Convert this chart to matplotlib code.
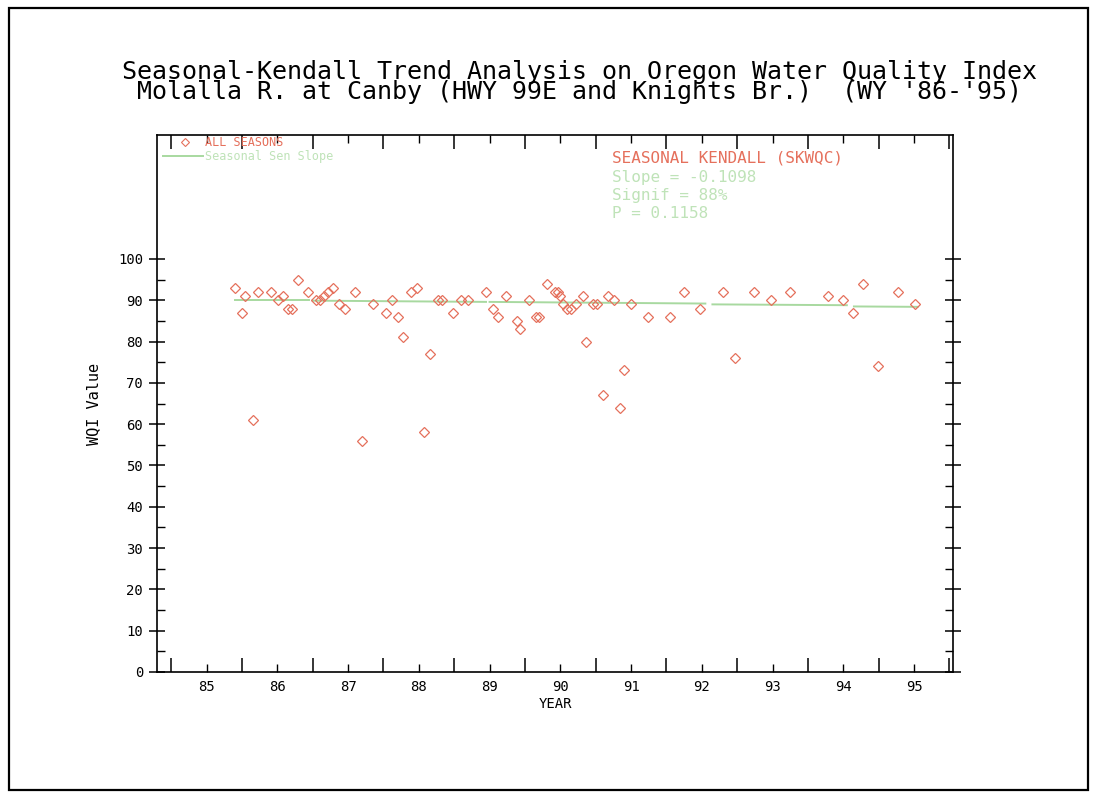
import matplotlib
matplotlib.use("Agg")
import matplotlib.pyplot as plt
from matplotlib.patches import Rectangle
from matplotlib.ticker import FixedLocator, FixedFormatter

# ---- data ----
years = [85.40, 85.50, 85.54, 85.66, 85.73, 85.91, 86.01, 86.08, 86.15, 86.21,
         86.29, 86.43, 86.55, 86.60, 86.66, 86.72, 86.79, 86.87, 86.96, 87.10,
         87.20, 87.35, 87.54, 87.62, 87.71, 87.78, 87.89, 87.97, 88.07, 88.16,
         88.27, 88.33, 88.48, 88.60, 88.70, 88.95, 89.05, 89.12, 89.23, 89.39,
         89.43, 89.56, 89.66, 89.70, 89.81, 89.92, 89.97, 90.00, 90.04, 90.09,
         90.15, 90.22, 90.32, 90.36, 90.46, 90.52, 90.60, 90.67, 90.76, 90.84,
         90.90, 91.00, 91.24, 91.55, 91.75, 91.97, 92.30, 92.47, 92.74, 92.98,
         93.25, 93.78, 93.99, 94.14, 94.28, 94.49, 94.77, 95.01]
wqi = [93, 87, 91, 61, 92, 92, 90, 91, 88, 88,
       95, 92, 90, 90, 91, 92, 93, 89, 88, 92,
       56, 89, 87, 90, 86, 81, 92, 93, 58, 77,
       90, 90, 87, 90, 90, 92, 88, 86, 91, 85,
       83, 90, 86, 86, 94, 92, 92, 91, 89, 88,
       88, 89, 91, 80, 89, 89, 67, 91, 90, 64,
       73, 89, 86, 86, 92, 88, 92, 76, 92, 90,
       92, 91, 90, 87, 94, 74, 92, 89]

# Sen slope line, drawn as separate water-year segments
trend_start_x = [85.40, 86.50, 89.00, 92.15, 94.15]
trend_end_x = [86.45, 88.95, 92.05, 94.05, 95.05]
trend_start_y = [90.0, 89.9, 89.6, 89.0, 88.5]
trend_end_y = [90.0, 89.6, 89.2, 88.8, 88.4]

xtick_years = [85, 86, 87, 88, 89, 90, 91, 92, 93, 94, 95]
xtick_labels = ["85", "86", "87", "88", "89", "90", "91", "92", "93", "94", "95"]
ytick_values = [0, 10, 20, 30, 40, 50, 60, 70, 80, 90, 100]

title_lines = ["Seasonal-Kendall Trend Analysis on Oregon Water Quality Index",
               "Molalla R. at Canby (HWY 99E and Knights Br.)  (WY '86-'95)"]
legend_labels = ["ALL SEASONS", "Seasonal Sen Slope"]
stats_head = "SEASONAL KENDALL (SKWQC)"
stats_lines = ["Slope = -0.1098", "Signif = 88%", "P = 0.1158"]

RED = "#e5705c"
GREEN = "#a8d9a0"
GREEN_TXT = "#bfe3b8"
MONO = "DejaVu Sans Mono"

fig = plt.figure(figsize=(10.95, 7.98), dpi=100)
fig.patch.set_facecolor("white")
fig.add_artist(Rectangle((0.008, 0.01), 0.986, 0.98, transform=fig.transFigure,
                         fill=False, lw=1.6, ec="black"))

ax = fig.add_axes([0.1434, 0.1579, 0.7269, 0.6729])
ax.set_xlim(84.3, 95.55)
ax.set_ylim(0, 130)

for xs, xe, ys, ye in zip(trend_start_x, trend_end_x, trend_start_y, trend_end_y):
    ax.plot([xs, xe], [ys, ye], color=GREEN, lw=1.4, zorder=2)
ax.plot(years, wqi, linestyle="none", marker="D", ms=5, mfc="none",
        mec=RED, mew=0.9, zorder=3)

for sp in ax.spines.values():
    sp.set_linewidth(1.2)

ax.xaxis.set_major_locator(FixedLocator([y + 0.5 for y in range(84, 96)]))
ax.xaxis.set_minor_locator(FixedLocator(xtick_years))
ax.set_xticklabels([], minor=False)
ax.xaxis.set_minor_formatter(FixedFormatter(xtick_labels))
ax.tick_params(axis="x", which="major", direction="in", length=10, width=1.1,
               top=True, bottom=True, labelbottom=False)
ax.tick_params(axis="x", which="minor", direction="in", length=6, width=1.0,
               top=True, bottom=True, labelsize=10, pad=6)

ax.yaxis.set_major_locator(FixedLocator(ytick_values))
ax.yaxis.set_minor_locator(FixedLocator([v + 5 for v in ytick_values[:-1]]))
ax.tick_params(axis="y", which="major", direction="inout", length=12, width=1.1,
               left=True, right=True, labelsize=10, pad=4)
ax.tick_params(axis="y", which="minor", direction="in", length=6, width=1.0,
               left=True, right=True)
for lab in ax.get_yticklabels() + ax.get_xticklabels(minor=True):
    lab.set_family(MONO)

ax.set_xlabel("YEAR", family=MONO, fontsize=10, labelpad=2)
ax.set_ylabel("WQI Value", family=MONO, fontsize=11, labelpad=12)

fig.text(0.529, 0.897, "\n".join(title_lines), ha="center", va="center",
         family=MONO, fontsize=18, linespacing=0.78)

# legend (manual, as in the reference)
ax.plot([84.70], [128.3], marker="D", ms=4, mfc="none", mec=RED, mew=0.8)
ax.text(84.98, 128.3, legend_labels[0], color=RED, family=MONO, fontsize=8.5, va="center")
ax.plot([84.39, 84.95], [124.9, 124.9], color=GREEN, lw=1.4)
ax.text(84.98, 124.9, legend_labels[1], color=GREEN_TXT, family=MONO, fontsize=8.5,
        va="center")

ax.text(90.73, 124.4, stats_head, color=RED, family=MONO, fontsize=11.5, va="center")
ax.text(90.73, 121.6, "\n".join(stats_lines), color=GREEN_TXT, family=MONO,
        fontsize=11.5, va="top", linespacing=1.25)

fig.savefig("out.png", dpi=100, facecolor="white")
